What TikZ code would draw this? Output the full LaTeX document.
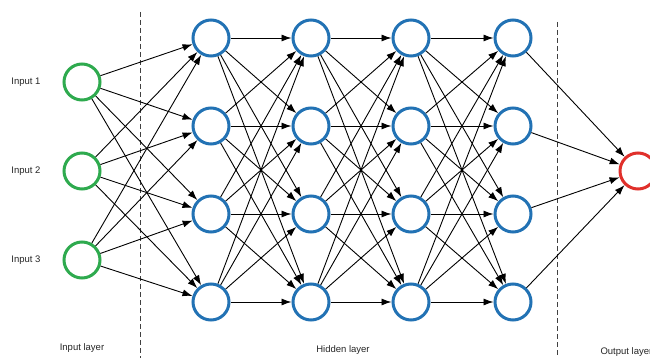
\documentclass[tikz,border=0pt]{standalone}
\usepackage{fontspec}
\setmainfont{Liberation Sans}
\usetikzlibrary{arrows.meta}
\definecolor{inGreen}{HTML}{2EAA4E}
\definecolor{hidBlue}{HTML}{2272B4}
\definecolor{outRed}{HTML}{E0302B}
\tikzset{
  neuron/.style={circle, line width=3pt, minimum size=36pt, inner sep=0pt, fill=white},
  inneuron/.style={neuron, draw=inGreen},
  hidneuron/.style={neuron, draw=hidBlue},
  outneuron/.style={neuron, draw=outRed},
  link/.style={line width=0.9pt, -{Latex[length=10pt,width=7pt]}},
  sep/.style={line width=0.6pt, dash pattern=on 5pt off 3pt, black!75},
  lbl/.style={font=\fontsize{9.5}{11}\selectfont, text=black!85}
}
\begin{document}
\begin{tikzpicture}[x=1pt,y=-1pt]
\useasboundingbox[fill=white] (0,0) rectangle (650,358);

% layer separators
\coordinate (s1t) at (140,12);  \coordinate (s1b) at (140,358);
\coordinate (s2t) at (557,22);  \coordinate (s2b) at (557,358);
\draw[sep] (s1t) -- (s1b);
\draw[sep] (s2t) -- (s2b);

% input neurons
\foreach \i/\y in {1/82,2/171,3/260}{
  \node[inneuron] (i\i) at (82,\y) {};
  \node[lbl] (t\i) at (26,\y) {Input \i};
}
% hidden neurons
\foreach \c/\x in {1/211,2/311,3/411,4/513}{
  \foreach \r/\y in {1/38,2/126,3/214,4/302}{
    \node[hidneuron] (h\c\r) at (\x,\y) {};
  }
}
% output neuron
\node[outneuron] (o) at (638,171) {};

% connections
\foreach \i in {1,2,3}{
  \foreach \r in {1,2,3,4}{
    \draw[link] (i\i) -- (h1\r);
  }
}
\foreach \c/\n in {1/2,2/3,3/4}{
  \foreach \r in {1,2,3,4}{
    \foreach \s in {1,2,3,4}{
      \draw[link] (h\c\r) -- (h\n\s);
    }
  }
}
\foreach \r in {1,2,3,4}{
  \draw[link] (h4\r) -- (o);
}

% layer captions
\node[lbl] (li) at (82,348) {Input layer};
\node[lbl] (lh) at (343,350) {Hidden layer};
\node[lbl, anchor=west] (lo) at (597,352) {Output layer};
\end{tikzpicture}
\end{document}
